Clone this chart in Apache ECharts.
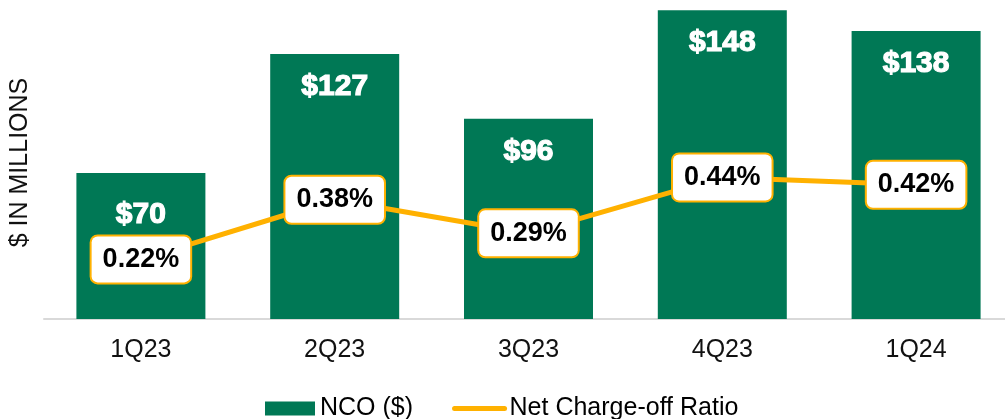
<!DOCTYPE html>
<html>
<head>
<meta charset="utf-8">
<script src="https://cdn.jsdelivr.net/npm/echarts@6/dist/echarts.min.js"></script>
<style>
html, body { margin: 0; padding: 0; background: #fff; }
#cc { width: 1005px; height: 419px; }
</style>
</head>
<body>
<div id="cc"></div>
<script>
var quarters = ['1Q23', '2Q23', '3Q23', '4Q23', '1Q24'];
var ncoValues = [70, 127, 96, 148, 138];
var ratioValues = [0.22, 0.38, 0.29, 0.44, 0.42];

var green = '#007855';
var orange = '#FFB100';
var font = 'Arial, "Liberation Sans", sans-serif';

var chart = echarts.init(document.getElementById('cc'));

var option = {
    animation: false,
    textStyle: { fontFamily: font },
    grid: { left: 44, width: 969, top: 6, bottom: 100, outerBoundsMode: 'none' },
    legend: {
        top: 391,
        left: 260,
        itemWidth: 50,
        itemHeight: 14,
        itemGap: 39,
        textStyle: { fontSize: 25, color: '#000', fontFamily: font },
        data: [
            { name: 'NCO ($)', icon: 'rect' },
            {
                name: 'Net Charge-off Ratio',
                itemStyle: { opacity: 0 },
                lineStyle: { width: 5, cap: 'round' }
            }
        ]
    },
    xAxis: {
        type: 'category',
        data: quarters,
        axisTick: { show: false },
        axisLine: { lineStyle: { color: '#d9d9d9', width: 2 } },
        axisLabel: { fontSize: 25, color: '#111', margin: 19, fontFamily: font }
    },
    yAxis: [
        {
            type: 'value',
            min: 0,
            max: 150,
            name: '$ IN MILLIONS',
            nameLocation: 'middle',
            nameGap: 11,
            nameTextStyle: { fontSize: 25, color: '#111', fontFamily: font },
            axisLabel: { show: false },
            axisLine: { show: false },
            axisTick: { show: false },
            splitLine: { show: false }
        },
        {
            type: 'value',
            min: 0.06,
            max: 0.9,
            show: false,
            splitLine: { show: false }
        }
    ],
    series: [
        {
            name: 'NCO ($)',
            type: 'bar',
            barWidth: 129,
            itemStyle: { color: green },
            data: ncoValues.map(function (v, i) {
                // first label sits a little lower to clear the ratio box
                return i === 0 ? { value: v, label: { distance: 27 } } : v;
            }),
            label: {
                show: true,
                position: 'insideTop',
                distance: 18,
                color: '#fff',
                fontSize: 30,
                fontWeight: 'bold',
                textBorderColor: '#fff',
                textBorderWidth: 1.2,
                fontFamily: font,
                formatter: function (p) { return '$' + p.value; }
            }
        },
        {
            name: 'Net Charge-off Ratio',
            type: 'line',
            yAxisIndex: 1,
            data: ratioValues,
            symbol: 'circle',
            symbolSize: 1,
            itemStyle: { color: orange },
            lineStyle: { color: orange, width: 5 },
            label: {
                show: true,
                position: 'inside',
                color: '#000',
                fontSize: 27,
                fontWeight: 'bold',
                fontFamily: font,
                backgroundColor: '#fff',
                borderColor: orange,
                borderWidth: 2,
                borderRadius: 6,
                padding: [10, 11],
                lineHeight: 26,
                formatter: function (p) { return p.value.toFixed(2) + '%'; }
            },
            z: 5
        }
    ]
};

chart.setOption(option);
</script>
</body>
</html>
